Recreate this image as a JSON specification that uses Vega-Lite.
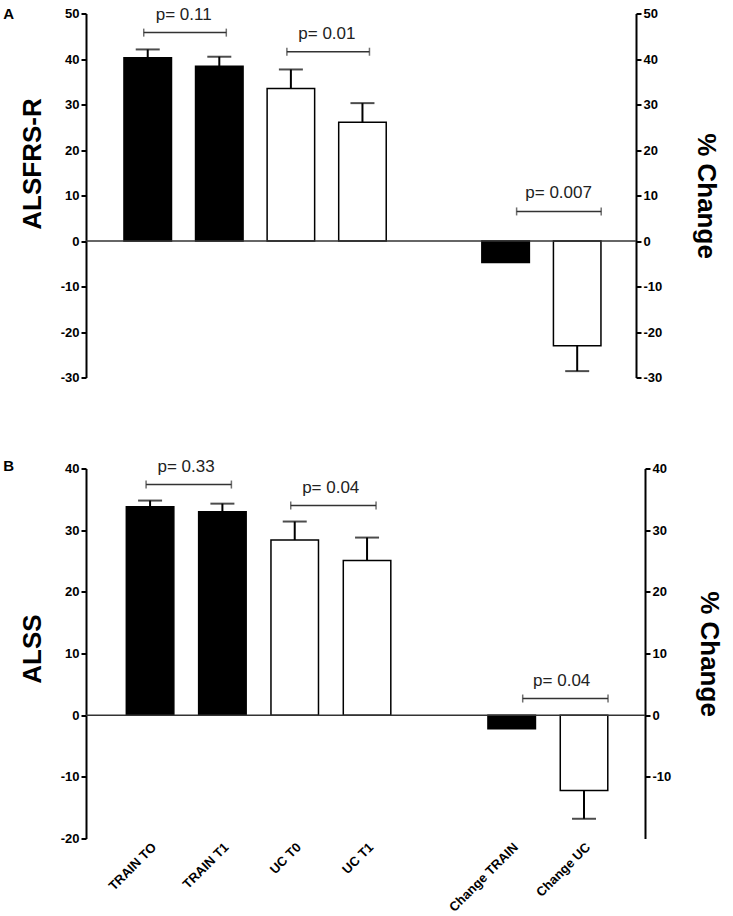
{
  "$schema": "https://vega.github.io/schema/vega-lite/v6.json",
  "background": "white",
  "padding": {"left": 3, "top": 5.5, "right": 6, "bottom": 0},
  "config": {
    "view": {"stroke": null},
    "font": "Liberation Sans",
    "axis": {
      "grid": false,
      "domainColor": "black",
      "domainWidth": 2,
      "tickColor": "black",
      "tickWidth": 2,
      "tickSize": 5,
      "labelFont": "Liberation Sans",
      "labelFontWeight": "bold",
      "labelFontSize": 13,
      "labelColor": "black",
      "labelPadding": 2,
      "titleFont": "Liberation Sans",
      "titleFontSize": 26,
      "titleFontWeight": "bold",
      "titleColor": "black"
    },
    "title": {"font": "Liberation Sans", "color": "black"}
  },
  "datasets": {
    "bars": [
      {"panel": "A", "cat": "TRAIN TO", "grp": "TRAIN", "mean": 40.3, "cap": 42.1},
      {"panel": "A", "cat": "TRAIN T1", "grp": "TRAIN", "mean": 38.4, "cap": 40.5},
      {"panel": "A", "cat": "UC T0", "grp": "UC", "mean": 33.5, "cap": 37.7},
      {"panel": "A", "cat": "UC T1", "grp": "UC", "mean": 26.1, "cap": 30.3},
      {"panel": "A", "cat": "Change TRAIN", "grp": "TRAIN", "mean": -4.7, "cap": null},
      {"panel": "A", "cat": "Change UC", "grp": "UC", "mean": -23.0, "cap": -28.6},
      {"panel": "B", "cat": "TRAIN TO", "grp": "TRAIN", "mean": 33.8, "cap": 34.8},
      {"panel": "B", "cat": "TRAIN T1", "grp": "TRAIN", "mean": 33.0, "cap": 34.3},
      {"panel": "B", "cat": "UC T0", "grp": "UC", "mean": 28.4, "cap": 31.4},
      {"panel": "B", "cat": "UC T1", "grp": "UC", "mean": 25.1, "cap": 28.8},
      {"panel": "B", "cat": "Change TRAIN", "grp": "TRAIN", "mean": -2.2, "cap": null},
      {"panel": "B", "cat": "Change UC", "grp": "UC", "mean": -12.2, "cap": -16.8}
    ],
    "brackets": [
      {"panel": "A", "kind": "group", "from": "TRAIN TO", "to": "TRAIN T1", "y": 45.8, "label": "p= 0.11"},
      {"panel": "A", "kind": "group", "from": "UC T0", "to": "UC T1", "y": 41.6, "label": "p= 0.01"},
      {"panel": "A", "kind": "change", "from": "Change TRAIN", "to": "Change UC", "y": 6.5, "label": "p= 0.007"},
      {"panel": "B", "kind": "group", "from": "TRAIN TO", "to": "TRAIN T1", "y": 37.4, "label": "p= 0.33"},
      {"panel": "B", "kind": "group", "from": "UC T0", "to": "UC T1", "y": 34.0, "label": "p= 0.04"},
      {"panel": "B", "kind": "change", "from": "Change TRAIN", "to": "Change UC", "y": 2.7, "label": "p= 0.04"}
    ]
  },
  "spacing": 73,
  "resolve": {"scale": {"x": "independent", "y": "independent"}},
  "vconcat": [
    {
      "width": 550,
      "height": 364,
      "title": {"text": "A", "anchor": "start", "frame": "bounds", "fontSize": 15, "fontWeight": "bold", "offset": -16, "dx": -16},
      "resolve": {"scale": {"y": "independent"}},
      "layer": [
        {
          "data": {"name": "bars"},
          "transform": [{"filter": "datum.panel == 'A'"}],
          "mark": {"type": "bar", "stroke": "black", "strokeWidth": 1.5},
          "encoding": {
            "x": {"field": "cat", "type": "nominal", "sort": null,
                  "scale": {"domain": ["TRAIN TO", "TRAIN T1", "UC T0", "UC T1", "gap", "Change TRAIN", "Change UC"], "paddingInner": 0.336, "paddingOuter": 0.51, "align": 0.52},
                  "axis": null},
            "y": {"field": "mean", "type": "quantitative", "scale": {"domain": [-30, 50], "nice": false},
                  "axis": {"orient": "left", "values": [50, 40, 30, 20, 10, 0, -10, -20, -30], "labelExpr": "'' + datum.value", "title": "ALSFRS-R", "titlePadding": 15, "titleY": 150}},
            "fill": {"field": "grp", "type": "nominal", "scale": {"domain": ["TRAIN", "UC"], "range": ["black", "white"]}, "legend": null}
          }
        },
        {
          "data": {"values": [{}]},
          "mark": {"type": "rule", "color": "#333", "strokeWidth": 1.5},
          "encoding": {"y": {"datum": 0, "type": "quantitative", "scale": {"domain": [-30, 50], "nice": false}, "axis": null}}
        },
        {
          "data": {"name": "bars"},
          "transform": [{"filter": "datum.panel == 'A' && datum.cap != null"}],
          "mark": {"type": "rule", "color": "black", "strokeWidth": 2},
          "encoding": {
            "x": {"field": "cat", "type": "nominal", "axis": null},
            "y": {"field": "mean", "type": "quantitative", "scale": {"domain": [-30, 50], "nice": false}, "axis": null},
            "y2": {"field": "cap"}
          }
        },
        {
          "data": {"name": "bars"},
          "transform": [{"filter": "datum.panel == 'A' && datum.cap != null"}],
          "mark": {"type": "tick", "color": "black", "size": 24, "thickness": 2},
          "encoding": {
            "x": {"field": "cat", "type": "nominal", "axis": null},
            "y": {"field": "cap", "type": "quantitative", "scale": {"domain": [-30, 50], "nice": false}, "axis": null}
          }
        },
        {
          "data": {"name": "brackets"},
          "transform": [{"filter": "datum.panel == 'A' && datum.kind == 'group'"}],
          "mark": {"type": "rule", "color": "#333", "strokeWidth": 1.5, "xOffset": -4, "x2Offset": 7},
          "encoding": {
            "x": {"field": "from", "type": "nominal", "axis": null},
            "x2": {"field": "to"},
            "y": {"field": "y", "type": "quantitative", "scale": {"domain": [-30, 50], "nice": false}, "axis": null}
          }
        },
        {
          "data": {"name": "brackets"},
          "transform": [{"filter": "datum.panel == 'A' && datum.kind == 'group'"}],
          "mark": {"type": "tick", "orient": "vertical", "color": "#333", "size": 8, "thickness": 1.5, "xOffset": -4},
          "encoding": {
            "x": {"field": "from", "type": "nominal", "axis": null},
            "y": {"field": "y", "type": "quantitative", "scale": {"domain": [-30, 50], "nice": false}, "axis": null}
          }
        },
        {
          "data": {"name": "brackets"},
          "transform": [{"filter": "datum.panel == 'A' && datum.kind == 'group'"}],
          "mark": {"type": "tick", "orient": "vertical", "color": "#333", "size": 8, "thickness": 1.5, "xOffset": 7},
          "encoding": {
            "x": {"field": "to", "type": "nominal", "axis": null},
            "y": {"field": "y", "type": "quantitative", "scale": {"domain": [-30, 50], "nice": false}, "axis": null}
          }
        },
        {
          "data": {"name": "brackets"},
          "transform": [{"filter": "datum.panel == 'A' && datum.kind == 'group'"}],
          "mark": {"type": "text", "color": "#222", "fontSize": 17, "baseline": "alphabetic", "dy": -13, "xOffset": 36},
          "encoding": {
            "x": {"field": "from", "type": "nominal", "axis": null},
            "y": {"field": "y", "type": "quantitative", "scale": {"domain": [-30, 50], "nice": false}, "axis": null},
            "text": {"field": "label"}
          }
        },
        {
          "data": {"name": "brackets"},
          "transform": [{"filter": "datum.panel == 'A' && datum.kind == 'change'"}],
          "mark": {"type": "rule", "color": "#333", "strokeWidth": 1.5, "xOffset": 11, "x2Offset": 24},
          "encoding": {
            "x": {"field": "from", "type": "nominal", "axis": null},
            "x2": {"field": "to"},
            "y": {"field": "y", "type": "quantitative", "scale": {"domain": [-30, 50], "nice": false}, "axis": null}
          }
        },
        {
          "data": {"name": "brackets"},
          "transform": [{"filter": "datum.panel == 'A' && datum.kind == 'change'"}],
          "mark": {"type": "tick", "orient": "vertical", "color": "#333", "size": 8, "thickness": 1.5, "xOffset": 11},
          "encoding": {
            "x": {"field": "from", "type": "nominal", "axis": null},
            "y": {"field": "y", "type": "quantitative", "scale": {"domain": [-30, 50], "nice": false}, "axis": null}
          }
        },
        {
          "data": {"name": "brackets"},
          "transform": [{"filter": "datum.panel == 'A' && datum.kind == 'change'"}],
          "mark": {"type": "tick", "orient": "vertical", "color": "#333", "size": 8, "thickness": 1.5, "xOffset": 24},
          "encoding": {
            "x": {"field": "to", "type": "nominal", "axis": null},
            "y": {"field": "y", "type": "quantitative", "scale": {"domain": [-30, 50], "nice": false}, "axis": null}
          }
        },
        {
          "data": {"name": "brackets"},
          "transform": [{"filter": "datum.panel == 'A' && datum.kind == 'change'"}],
          "mark": {"type": "text", "color": "#222", "fontSize": 17, "baseline": "alphabetic", "dy": -13, "xOffset": 53},
          "encoding": {
            "x": {"field": "from", "type": "nominal", "axis": null},
            "y": {"field": "y", "type": "quantitative", "scale": {"domain": [-30, 50], "nice": false}, "axis": null},
            "text": {"field": "label"}
          }
        },
        {
          "data": {"values": [{"v": 0}]},
          "mark": {"type": "rule", "opacity": 0},
          "encoding": {
            "y": {"field": "v", "type": "quantitative", "scale": {"domain": [-30, 50], "nice": false},
                  "axis": {"orient": "right", "values": [50, 40, 30, 20, 10, 0, -10, -20, -30], "labelExpr": "'' + datum.value", "title": "% Change", "titlePadding": 31}}
          }
        }
      ]
    },
    {
      "width": 559,
      "height": 370,
      "title": {"text": "B", "anchor": "start", "frame": "bounds", "fontSize": 15, "fontWeight": "bold", "offset": -16, "dx": -16},
      "resolve": {"scale": {"y": "independent"}},
      "layer": [
        {
          "data": {"name": "bars"},
          "transform": [{"filter": "datum.panel == 'B'"}],
          "mark": {"type": "bar", "stroke": "black", "strokeWidth": 1.5},
          "encoding": {
            "x": {"field": "cat", "type": "nominal", "sort": null, "title": null,
                  "scale": {"domain": ["TRAIN TO", "TRAIN T1", "UC T0", "UC T1", "gap", "Change TRAIN", "Change UC"], "paddingInner": 0.343, "paddingOuter": 0.536, "align": 0.52},
                  "axis": {"orient": "bottom", "title": null, "domain": false, "ticks": false, "labelAngle": -45, "labelFontSize": 13, "labelPadding": 2, "labelExpr": "datum.value == 'gap' ? '' : datum.value"}},
            "y": {"field": "mean", "type": "quantitative", "scale": {"domain": [-20, 40], "nice": false},
                  "axis": {"orient": "left", "values": [40, 30, 20, 10, 0, -10, -20], "labelExpr": "'' + datum.value", "title": "ALSS", "titlePadding": 15, "titleY": 180}},
            "fill": {"field": "grp", "type": "nominal", "scale": {"domain": ["TRAIN", "UC"], "range": ["black", "white"]}, "legend": null}
          }
        },
        {
          "data": {"values": [{}]},
          "mark": {"type": "rule", "color": "#333", "strokeWidth": 1.5},
          "encoding": {"y": {"datum": 0, "type": "quantitative", "scale": {"domain": [-20, 40], "nice": false}, "axis": null}}
        },
        {
          "data": {"name": "bars"},
          "transform": [{"filter": "datum.panel == 'B' && datum.cap != null"}],
          "mark": {"type": "rule", "color": "black", "strokeWidth": 2},
          "encoding": {
            "x": {"field": "cat", "type": "nominal", "title": null},
            "y": {"field": "mean", "type": "quantitative", "scale": {"domain": [-20, 40], "nice": false}, "axis": null},
            "y2": {"field": "cap"}
          }
        },
        {
          "data": {"name": "bars"},
          "transform": [{"filter": "datum.panel == 'B' && datum.cap != null"}],
          "mark": {"type": "tick", "color": "black", "size": 24, "thickness": 2},
          "encoding": {
            "x": {"field": "cat", "type": "nominal", "title": null},
            "y": {"field": "cap", "type": "quantitative", "scale": {"domain": [-20, 40], "nice": false}, "axis": null}
          }
        },
        {
          "data": {"name": "brackets"},
          "transform": [{"filter": "datum.panel == 'B' && datum.kind == 'group'"}],
          "mark": {"type": "rule", "color": "#333", "strokeWidth": 1.5, "xOffset": -4, "x2Offset": 9},
          "encoding": {
            "x": {"field": "from", "type": "nominal", "title": null},
            "x2": {"field": "to"},
            "y": {"field": "y", "type": "quantitative", "scale": {"domain": [-20, 40], "nice": false}, "axis": null}
          }
        },
        {
          "data": {"name": "brackets"},
          "transform": [{"filter": "datum.panel == 'B' && datum.kind == 'group'"}],
          "mark": {"type": "tick", "orient": "vertical", "color": "#333", "size": 8, "thickness": 1.5, "xOffset": -4},
          "encoding": {
            "x": {"field": "from", "type": "nominal", "title": null},
            "y": {"field": "y", "type": "quantitative", "scale": {"domain": [-20, 40], "nice": false}, "axis": null}
          }
        },
        {
          "data": {"name": "brackets"},
          "transform": [{"filter": "datum.panel == 'B' && datum.kind == 'group'"}],
          "mark": {"type": "tick", "orient": "vertical", "color": "#333", "size": 8, "thickness": 1.5, "xOffset": 9},
          "encoding": {
            "x": {"field": "to", "type": "nominal", "title": null},
            "y": {"field": "y", "type": "quantitative", "scale": {"domain": [-20, 40], "nice": false}, "axis": null}
          }
        },
        {
          "data": {"name": "brackets"},
          "transform": [{"filter": "datum.panel == 'B' && datum.kind == 'group'"}],
          "mark": {"type": "text", "color": "#222", "fontSize": 17, "baseline": "alphabetic", "dy": -13, "xOffset": 36},
          "encoding": {
            "x": {"field": "from", "type": "nominal", "title": null},
            "y": {"field": "y", "type": "quantitative", "scale": {"domain": [-20, 40], "nice": false}, "axis": null},
            "text": {"field": "label"}
          }
        },
        {
          "data": {"name": "brackets"},
          "transform": [{"filter": "datum.panel == 'B' && datum.kind == 'change'"}],
          "mark": {"type": "rule", "color": "#333", "strokeWidth": 1.5, "xOffset": 11, "x2Offset": 24},
          "encoding": {
            "x": {"field": "from", "type": "nominal", "title": null},
            "x2": {"field": "to"},
            "y": {"field": "y", "type": "quantitative", "scale": {"domain": [-20, 40], "nice": false}, "axis": null}
          }
        },
        {
          "data": {"name": "brackets"},
          "transform": [{"filter": "datum.panel == 'B' && datum.kind == 'change'"}],
          "mark": {"type": "tick", "orient": "vertical", "color": "#333", "size": 8, "thickness": 1.5, "xOffset": 11},
          "encoding": {
            "x": {"field": "from", "type": "nominal", "title": null},
            "y": {"field": "y", "type": "quantitative", "scale": {"domain": [-20, 40], "nice": false}, "axis": null}
          }
        },
        {
          "data": {"name": "brackets"},
          "transform": [{"filter": "datum.panel == 'B' && datum.kind == 'change'"}],
          "mark": {"type": "tick", "orient": "vertical", "color": "#333", "size": 8, "thickness": 1.5, "xOffset": 24},
          "encoding": {
            "x": {"field": "to", "type": "nominal", "title": null},
            "y": {"field": "y", "type": "quantitative", "scale": {"domain": [-20, 40], "nice": false}, "axis": null}
          }
        },
        {
          "data": {"name": "brackets"},
          "transform": [{"filter": "datum.panel == 'B' && datum.kind == 'change'"}],
          "mark": {"type": "text", "color": "#222", "fontSize": 17, "baseline": "alphabetic", "dy": -13, "xOffset": 50},
          "encoding": {
            "x": {"field": "from", "type": "nominal", "title": null},
            "y": {"field": "y", "type": "quantitative", "scale": {"domain": [-20, 40], "nice": false}, "axis": null},
            "text": {"field": "label"}
          }
        },
        {
          "data": {"values": [{"v": 0}]},
          "mark": {"type": "rule", "opacity": 0},
          "encoding": {
            "y": {"field": "v", "type": "quantitative", "scale": {"domain": [-20, 40], "nice": false},
                  "axis": {"orient": "right", "values": [40, 30, 20, 10, 0, -10], "labelExpr": "'' + datum.value", "title": "% Change", "titlePadding": 25}}
          }
        }
      ]
    }
  ]
}
